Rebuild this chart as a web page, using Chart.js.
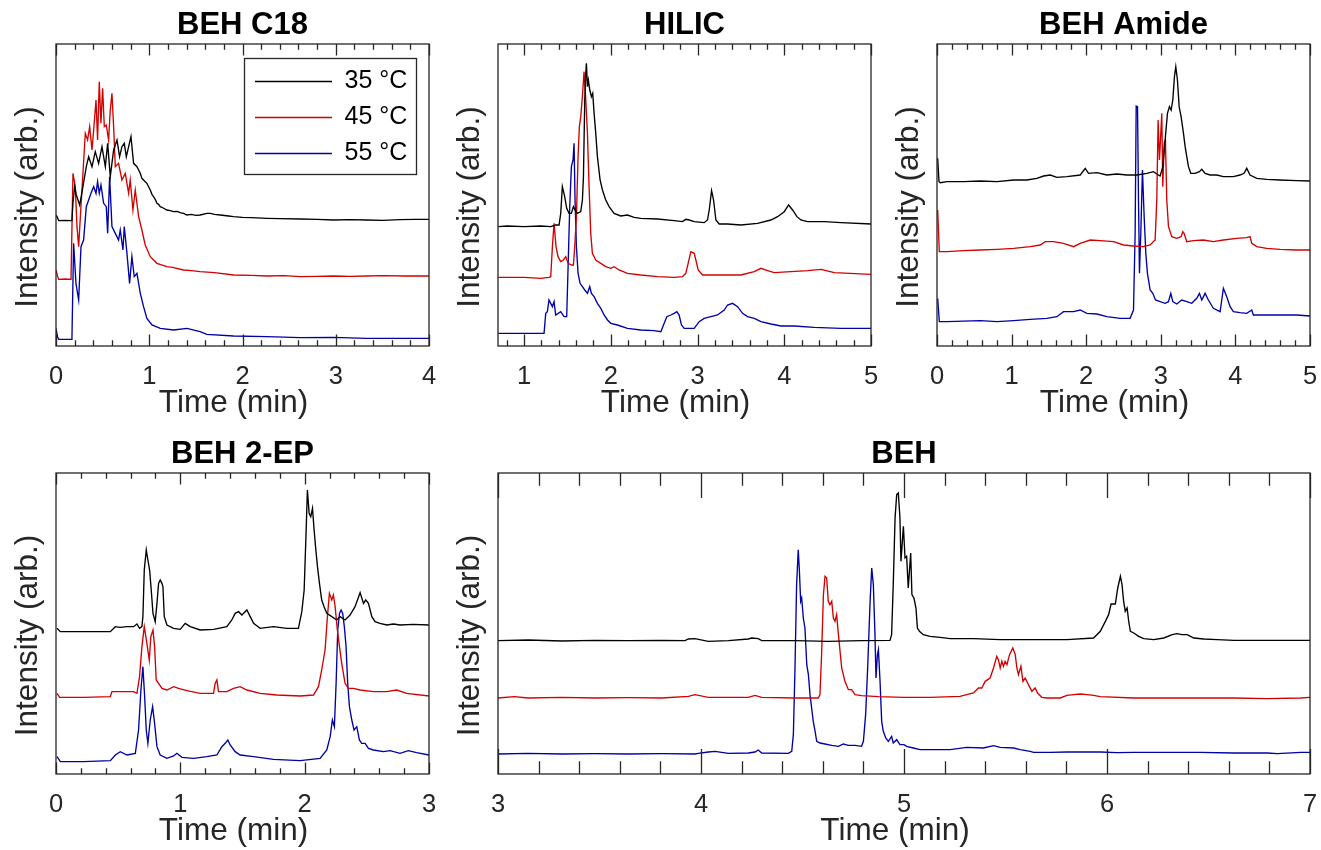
<!DOCTYPE html>
<html>
<head>
<meta charset="utf-8">
<script src="https://cdn.jsdelivr.net/npm/chart.js@4.4.1/dist/chart.umd.min.js"></script>
<style>
html,body{margin:0;padding:0;background:#fff;width:1321px;height:850px;overflow:hidden;}
canvas{position:absolute;}
</style>
</head>
<body>
<script>
// ---------------- DATA ----------------
const seriesLabels = ['35 °C', '45 °C', '55 °C'];
const panelTitles = ['BEH C18', 'HILIC', 'BEH Amide', 'BEH 2-EP', 'BEH'];
const xAxisTitle = 'Time (min)';
const yAxisTitle = 'Intensity (arb.)';

const c18Ticks = [0, 1, 2, 3, 4];
const hilicTicks = [1, 2, 3, 4, 5];
const amideTicks = [0, 1, 2, 3, 4, 5];
const ep2Ticks = [0, 1, 2, 3];
const behTicks = [3, 4, 5, 6, 7];

// [time (min), intensity (arb.)]
const c18_35 = [[0,393],[0.011,388],[0.029,376],[0.09,377],[0.161,376],[0.171,378],[0.182,430],[0.2,478],[0.218,453],[0.254,423],[0.289,478],[0.325,538],[0.35,568],[0.386,538],[0.421,583],[0.457,548],[0.493,598],[0.529,538],[0.554,608],[0.582,508],[0.618,588],[0.654,618],[0.682,568],[0.707,598],[0.732,608],[0.754,568],[0.779,598],[0.804,628],[0.832,548],[0.868,538],[0.886,528],[0.904,518],[0.921,503],[0.939,498],[0.957,493],[0.975,488],[1.011,468],[1.029,455],[1.046,448],[1.064,440],[1.082,428],[1.1,425],[1.118,418],[1.15,414],[1.189,408],[1.225,406],[1.261,403],[1.3,404],[1.332,400],[1.368,398],[1.404,393],[1.45,395],[1.5,392],[1.546,393],[1.618,398],[1.654,398],[1.7,395],[1.761,393],[1.85,390],[1.904,388],[2.0,386],[2.1,385],[2.261,383],[2.4,382],[2.618,381],[2.8,380],[2.975,378],[3.15,379],[3.332,378],[3.5,377],[3.689,379],[3.85,380],[4,380]];
const c18_45 = [[0,228],[0.018,208],[0.029,200],[0.1,201],[0.161,200],[0.171,200],[0.182,518],[0.207,478],[0.225,358],[0.243,298],[0.261,388],[0.289,518],[0.314,638],[0.339,618],[0.361,658],[0.386,588],[0.404,648],[0.429,738],[0.446,618],[0.464,793],[0.482,668],[0.5,773],[0.518,658],[0.539,663],[0.564,618],[0.582,708],[0.6,758],[0.618,658],[0.636,538],[0.671,548],[0.707,498],[0.743,518],[0.779,458],[0.796,498],[0.825,408],[0.85,468],[0.886,388],[0.921,348],[0.957,303],[1.011,268],[1.082,248],[1.189,238],[1.25,236],[1.368,228],[1.45,226],[1.546,223],[1.7,220],[1.904,213],[2.1,212],[2.261,210],[2.45,211],[2.618,208],[2.8,209],[2.975,210],[3.15,209],[3.332,210],[3.5,211],[3.75,210],[4,210]];
const c18_55 = [[0,53],[0.018,26],[0.029,20],[0.1,20],[0.161,20],[0.171,23],[0.189,308],[0.214,188],[0.243,138],[0.268,298],[0.296,318],[0.325,418],[0.35,438],[0.375,458],[0.404,478],[0.429,458],[0.446,493],[0.464,458],[0.482,483],[0.511,428],[0.539,418],[0.554,338],[0.575,508],[0.6,358],[0.636,338],[0.671,318],[0.689,348],[0.718,288],[0.732,358],[0.761,278],[0.789,188],[0.814,268],[0.839,208],[0.868,218],[0.904,158],[0.939,118],[0.975,83],[1.029,63],[1.118,53],[1.261,48],[1.404,53],[1.546,43],[1.618,35],[1.904,30],[2.261,28],[2.618,25],[2.975,26],[3.332,23],[4,23]];

const hilic_35 = [[0.704,358],[0.808,360],[1,358],[1.192,360],[1.308,358],[1.365,363],[1.404,363],[1.423,398],[1.442,478],[1.469,448],[1.492,413],[1.519,398],[1.546,398],[1.569,418],[1.588,408],[1.615,398],[1.654,403],[1.673,438],[1.685,508],[1.7,738],[1.712,818],[1.719,848],[1.731,778],[1.742,798],[1.758,768],[1.777,748],[1.792,758],[1.808,698],[1.827,638],[1.846,568],[1.877,498],[1.904,468],[1.942,438],[1.981,418],[2.038,398],[2.115,390],[2.192,393],[2.269,386],[2.346,383],[2.538,381],[2.731,376],[2.827,373],[2.865,380],[2.904,378],[2.962,373],[3.077,370],[3.115,378],[3.135,408],[3.162,466],[3.185,438],[3.212,378],[3.25,366],[3.346,366],[3.5,363],[3.692,368],[3.846,378],[3.923,388],[4,403],[4.05,423],[4.096,408],[4.146,388],[4.192,378],[4.269,373],[4.462,373],[4.654,370],[5,366]];
const hilic_45 = [[0.704,206],[1,206],[1.192,203],[1.288,206],[1.308,208],[1.327,298],[1.346,368],[1.369,298],[1.392,268],[1.423,253],[1.454,258],[1.481,268],[1.508,248],[1.55,243],[1.569,243],[1.585,298],[1.604,388],[1.623,568],[1.638,658],[1.654,688],[1.673,748],[1.692,823],[1.712,738],[1.731,638],[1.75,478],[1.769,338],[1.788,278],[1.827,258],[1.885,248],[1.942,238],[2,233],[2.038,238],[2.096,228],[2.192,218],[2.346,213],[2.538,208],[2.731,206],[2.827,208],[2.865,218],[2.892,248],[2.923,283],[2.962,278],[2.981,258],[3.008,228],[3.058,213],[3.192,213],[3.5,213],[3.654,223],[3.731,233],[3.808,226],[3.885,220],[4.077,223],[4.269,226],[4.423,230],[4.577,220],[5,215]];
const hilic_55 = [[0.704,38],[1,38],[1.212,38],[1.231,38],[1.25,98],[1.269,103],[1.288,138],[1.308,128],[1.327,118],[1.346,133],[1.365,93],[1.423,103],[1.462,88],[1.492,88],[1.508,238],[1.527,418],[1.546,538],[1.565,558],[1.577,608],[1.588,438],[1.604,298],[1.623,218],[1.646,188],[1.673,178],[1.7,168],[1.731,158],[1.758,178],[1.777,158],[1.808,148],[1.846,128],[1.885,113],[1.923,93],[1.962,78],[2,68],[2.077,63],[2.192,53],[2.346,48],[2.5,46],[2.577,43],[2.608,63],[2.646,88],[2.692,93],[2.731,98],[2.762,103],[2.788,93],[2.815,63],[2.846,53],[2.962,53],[3.019,73],[3.077,83],[3.154,88],[3.231,93],[3.308,108],[3.346,123],[3.404,128],[3.462,118],[3.519,98],[3.577,88],[3.654,83],[3.731,73],[3.846,66],[3.962,60],[4.115,60],[4.346,56],[4.654,53],[5,53]];

const amide_35 = [[0.009,563],[0.027,493],[0.045,490],[0.134,493],[0.357,493],[0.58,495],[0.804,493],[1.027,498],[1.205,498],[1.339,503],[1.429,510],[1.518,513],[1.607,506],[1.741,508],[1.92,513],[1.987,533],[2.031,518],[2.143,520],[2.277,513],[2.411,516],[2.545,513],[2.679,513],[2.812,518],[2.902,523],[2.946,516],[2.991,510],[3.027,538],[3.058,618],[3.089,698],[3.116,718],[3.138,708],[3.161,738],[3.183,808],[3.201,838],[3.223,798],[3.246,718],[3.272,688],[3.304,638],[3.326,598],[3.348,568],[3.371,538],[3.402,518],[3.46,518],[3.518,523],[3.549,530],[3.594,518],[3.661,513],[3.75,513],[3.839,508],[3.973,508],[4.062,513],[4.116,518],[4.152,533],[4.196,513],[4.286,503],[4.42,500],[4.598,498],[4.821,496],[5,495]];
const amide_45 = [[0.009,408],[0.031,283],[0.134,283],[0.357,286],[0.58,288],[0.804,290],[1.027,293],[1.25,298],[1.384,303],[1.451,313],[1.563,313],[1.696,308],[1.83,298],[1.92,308],[2.054,318],[2.188,316],[2.366,313],[2.5,303],[2.634,300],[2.768,298],[2.857,303],[2.924,318],[2.946,438],[2.964,678],[2.982,558],[3,638],[3.013,698],[3.027,478],[3.045,608],[3.062,618],[3.08,438],[3.103,358],[3.147,328],[3.214,323],[3.272,328],[3.295,343],[3.312,338],[3.348,313],[3.437,316],[3.571,318],[3.705,313],[3.839,318],[4.018,323],[4.152,325],[4.196,328],[4.219,308],[4.286,298],[4.42,293],[4.598,290],[4.821,288],[5,288]];
const amide_55 = [[0.009,143],[0.031,73],[0.134,73],[0.58,76],[0.804,73],[1.027,76],[1.25,80],[1.473,83],[1.607,88],[1.696,103],[1.83,103],[1.92,108],[2.009,98],[2.143,96],[2.277,88],[2.455,83],[2.589,83],[2.634,108],[2.656,338],[2.67,720],[2.688,718],[2.701,438],[2.714,218],[2.732,338],[2.754,528],[2.777,388],[2.799,278],[2.821,218],[2.857,168],[2.893,158],[2.929,138],[2.991,133],[3.058,128],[3.103,133],[3.134,158],[3.161,133],[3.214,126],[3.281,138],[3.348,133],[3.415,128],[3.482,143],[3.518,158],[3.549,138],[3.594,158],[3.638,138],[3.705,113],[3.795,103],[3.817,138],[3.839,173],[3.884,148],[3.929,118],[3.973,103],[4.062,100],[4.152,98],[4.219,108],[4.241,93],[4.375,93],[4.598,93],[4.821,93],[5,90]];

const ep2_35 = [[0.008,437],[0.035,427],[0.222,427],[0.437,427],[0.477,442],[0.517,440],[0.571,442],[0.624,442],[0.651,450],[0.672,437],[0.691,442],[0.699,472],[0.71,612],[0.726,672],[0.739,642],[0.753,612],[0.766,552],[0.78,482],[0.798,457],[0.812,512],[0.825,572],[0.838,582],[0.852,572],[0.86,562],[0.871,472],[0.892,447],[0.946,437],[0.999,434],[1.039,452],[1.08,442],[1.16,432],[1.267,434],[1.374,442],[1.414,462],[1.441,482],[1.468,487],[1.495,477],[1.535,492],[1.562,472],[1.589,452],[1.642,437],[1.749,442],[1.856,437],[1.95,437],[1.977,487],[1.996,552],[2.012,732],[2.022,852],[2.036,782],[2.049,772],[2.063,797],[2.076,732],[2.09,672],[2.103,622],[2.119,572],[2.137,522],[2.156,502],[2.178,482],[2.218,472],[2.258,462],[2.285,472],[2.325,462],[2.365,477],[2.405,502],[2.446,544],[2.473,512],[2.491,522],[2.513,512],[2.54,472],[2.566,457],[2.606,452],[2.66,447],[2.714,450],[2.767,447],[2.874,449],[3,447]];
const ep2_45 = [[0.008,242],[0.029,230],[0.222,230],[0.437,232],[0.45,247],[0.517,247],[0.624,247],[0.651,242],[0.672,292],[0.691,382],[0.71,442],[0.731,392],[0.75,342],[0.763,412],[0.78,432],[0.793,382],[0.806,282],[0.825,272],[0.852,257],[0.892,252],[0.946,262],[0.986,257],[1.053,250],[1.16,242],[1.267,242],[1.28,272],[1.294,282],[1.307,247],[1.374,247],[1.428,257],[1.481,262],[1.535,252],[1.642,242],[1.776,237],[1.964,234],[2.071,237],[2.111,262],[2.137,312],[2.164,372],[2.183,472],[2.199,542],[2.218,522],[2.231,537],[2.245,502],[2.263,432],[2.28,382],[2.298,332],[2.325,272],[2.352,257],[2.392,257],[2.446,252],[2.553,247],[2.66,247],[2.74,252],[2.821,242],[3,234]];
const ep2_55 = [[0.008,52],[0.035,37],[0.222,37],[0.437,40],[0.477,57],[0.517,67],[0.571,57],[0.638,62],[0.664,132],[0.683,252],[0.699,322],[0.713,232],[0.726,132],[0.739,92],[0.758,162],[0.777,202],[0.793,152],[0.812,82],[0.838,57],[0.892,47],[0.946,54],[0.972,62],[1.013,50],[1.106,47],[1.213,52],[1.294,57],[1.334,82],[1.361,92],[1.382,102],[1.401,87],[1.441,67],[1.481,57],[1.589,52],[1.749,44],[1.964,40],[2.124,47],[2.178,72],[2.205,112],[2.223,162],[2.239,142],[2.253,272],[2.266,432],[2.28,482],[2.293,492],[2.306,482],[2.319,442],[2.333,382],[2.346,272],[2.36,202],[2.379,162],[2.397,132],[2.419,142],[2.44,102],[2.459,92],[2.486,92],[2.513,77],[2.553,72],[2.633,67],[2.687,70],[2.767,62],[2.834,70],[2.901,64],[3,57]];

const beh_35 = [[3,400],[3.149,402],[3.314,399],[3.478,401],[3.642,400],[3.806,401],[3.921,400],[3.938,405],[3.97,406],[4.036,398],[4.135,400],[4.233,405],[4.25,408],[4.282,406],[4.299,400],[4.463,400],[4.627,398],[4.791,400],[4.931,401],[4.939,418],[4.947,568],[4.956,768],[4.964,838],[4.972,843],[4.98,768],[4.985,638],[4.997,743],[5.005,648],[5.013,653],[5.021,558],[5.033,663],[5.039,538],[5.049,528],[5.059,498],[5.066,438],[5.076,428],[5.095,418],[5.128,413],[5.178,410],[5.227,406],[5.342,406],[5.474,403],[5.638,403],[5.803,403],[5.934,408],[5.967,428],[5.992,458],[6.008,478],[6.02,510],[6.041,510],[6.053,558],[6.066,593],[6.074,568],[6.082,518],[6.09,488],[6.099,498],[6.107,458],[6.115,428],[6.132,423],[6.156,413],[6.181,406],[6.23,403],[6.28,408],[6.321,418],[6.345,421],[6.37,418],[6.395,418],[6.428,408],[6.477,405],[6.543,403],[6.625,401],[6.789,401],[7,401]];
const beh_45 = [[3,228],[3.08,232],[3.149,228],[3.314,230],[3.478,228],[3.642,229],[3.806,228],[3.938,233],[3.97,238],[4.036,230],[4.233,230],[4.266,236],[4.299,230],[4.463,228],[4.578,228],[4.586,238],[4.594,358],[4.603,538],[4.611,593],[4.619,588],[4.627,518],[4.635,508],[4.644,518],[4.652,468],[4.66,458],[4.668,478],[4.677,418],[4.685,368],[4.693,318],[4.709,278],[4.726,253],[4.742,253],[4.759,238],[4.791,235],[4.874,232],[5,230],[5.128,230],[5.276,233],[5.309,238],[5.342,243],[5.367,258],[5.383,258],[5.4,278],[5.424,288],[5.441,318],[5.457,353],[5.465,343],[5.474,318],[5.482,338],[5.49,323],[5.498,338],[5.507,328],[5.52,358],[5.536,378],[5.548,358],[5.556,318],[5.564,298],[5.576,323],[5.586,278],[5.597,288],[5.613,268],[5.63,248],[5.646,258],[5.658,243],[5.679,230],[5.704,228],[5.77,228],[5.803,236],[5.836,238],[5.868,240],[5.901,238],[5.934,236],[5.967,232],[6.132,228],[6.296,228],[6.461,228],[6.625,228],[6.789,226],[6.954,228],[7,230]];
const beh_55 = [[3,60],[3.149,62],[3.314,60],[3.478,61],[3.642,60],[3.806,61],[3.97,60],[3.987,62],[4.036,66],[4.069,68],[4.102,65],[4.135,62],[4.233,63],[4.266,66],[4.282,72],[4.299,63],[4.43,62],[4.447,68],[4.455,118],[4.463,318],[4.471,568],[4.479,673],[4.484,618],[4.491,518],[4.496,528],[4.504,468],[4.512,438],[4.521,328],[4.529,298],[4.537,238],[4.545,198],[4.553,158],[4.562,128],[4.57,98],[4.586,93],[4.611,90],[4.644,86],[4.677,83],[4.701,90],[4.726,86],[4.759,86],[4.791,83],[4.8,98],[4.811,178],[4.821,318],[4.833,518],[4.841,618],[4.849,568],[4.857,418],[4.862,288],[4.869,358],[4.874,373],[4.882,278],[4.89,158],[4.898,128],[4.91,108],[4.923,98],[4.939,113],[4.947,93],[4.964,103],[4.98,88],[5,88],[5.013,83],[5.046,78],[5.079,73],[5.145,73],[5.227,73],[5.309,80],[5.391,78],[5.441,85],[5.474,80],[5.54,78],[5.572,73],[5.622,68],[5.638,65],[5.72,65],[5.803,66],[5.885,66],[5.967,66],[6.049,64],[6.132,65],[6.296,65],[6.461,65],[6.625,63],[6.789,63],[6.839,61],[6.954,65],[7,65]];

// ---------------- STYLE / LAYOUT ----------------
const FONT = '"Liberation Sans", Arial, Helvetica, sans-serif';
const AXIS_COLOR = '#262626';
const COLORS = ['#000000', '#d40000', '#0000a8'];

const panels = [
  {title: panelTitles[0], xMin: 0,   xMax: 4, ticks: c18Ticks,   yMax: 906, series: [c18_35, c18_45, c18_55],       rect: [56, 44, 429, 346],   legend: true,  tick: [11.5, 5.7]},
  {title: panelTitles[1], xMin: 0.7, xMax: 5, ticks: hilicTicks, yMax: 906, series: [hilic_35, hilic_45, hilic_55], rect: [498, 44, 871, 346],  legend: false, tick: [11.5, 5.7]},
  {title: panelTitles[2], xMin: 0,   xMax: 5, ticks: amideTicks, yMax: 906, series: [amide_35, amide_45, amide_55], rect: [937, 44, 1310, 346], legend: false, tick: [11.5, 5.7]},
  {title: panelTitles[3], xMin: 0,   xMax: 3, ticks: ep2Ticks,   yMax: 903, series: [ep2_35, ep2_45, ep2_55],       rect: [56, 473, 429, 774],  legend: false, tick: [11.5, 5.7]},
  {title: panelTitles[4], xMin: 3,   xMax: 7, ticks: behTicks,   yMax: 903, series: [beh_35, beh_45, beh_55],       rect: [498, 473, 1310, 774], legend: false, tick: [25, 12.7]}
];

const Y_AXIS_W = 46, TITLE_H = 44, X_AXIS_H = 76, PAD_R = 11;

// inward ticks on top & bottom + box frame
const boxTicks = {
  id: 'boxTicks',
  afterDatasetsDraw(chart, args, o) {
    const ctx = chart.ctx, a = chart.chartArea, x = chart.scales.x;
    ctx.save();
    ctx.strokeStyle = o.color;
    ctx.lineWidth = o.lineWidth;
    ctx.beginPath();
    const k0 = Math.ceil(x.min / o.minorStep - 1e-6), k1 = Math.floor(x.max / o.minorStep + 1e-6);
    for (let k = k0; k <= k1; k++) {
      const v = k * o.minorStep;
      const r = v / o.majorStep;
      const major = Math.abs(r - Math.round(r)) < 1e-6;
      const len = major ? o.majorLen : o.minorLen;
      const px = Math.round(x.getPixelForValue(v)) + 0.5;
      ctx.moveTo(px, a.bottom); ctx.lineTo(px, a.bottom - len);
      ctx.moveTo(px, a.top); ctx.lineTo(px, a.top + len);
    }
    ctx.stroke();
    ctx.strokeRect(a.left, a.top, a.right - a.left, a.bottom - a.top);
    ctx.restore();
  }
};

// moves the library legend to the top-right corner of the plot and frames it
const legendFrame = {
  id: 'legendFrame',
  afterLayout(chart, args, o) {
    const lg = chart.legend;
    if (!o.enabled || !lg) return;
    const a = chart.chartArea;
    lg.left = a.right - o.right - o.width;
    lg.right = lg.left + o.width;
    lg.top = a.top + o.top;
  },
  afterDraw(chart, args, o) {
    const lg = chart.legend;
    if (!o.enabled || !lg) return;
    const ctx = chart.ctx;
    ctx.save();
    ctx.strokeStyle = o.color;
    ctx.lineWidth = o.lineWidth;
    ctx.strokeRect(Math.round(lg.left) + 0.5, Math.round(lg.top) + 0.5, o.width, o.height);
    ctx.restore();
  }
};

// small offset of the axis titles (the library draws them; we only shift the origin)
const titleNudge = {
  id: 'titleNudge',
  afterLayout(chart, args, o) {
    ['x', 'y'].forEach(id => {
      const s = chart.scales[id];
      if (!s || s.__nudged) return;
      const orig = s.drawTitle;
      const d = o[id];
      s.drawTitle = function () {
        const c = this.ctx;
        c.save();
        c.translate(d[0], d[1]);
        orig.call(this);
        c.restore();
      };
      s.__nudged = true;
    });
  }
};

panels.forEach((p) => {
  const [L, T, R, B] = p.rect;
  const cv = document.createElement('canvas');
  const left = L - Y_AXIS_W, top = T - TITLE_H;
  const w = R - L + Y_AXIS_W + PAD_R, h = B - T + TITLE_H + X_AXIS_H;
  cv.width = w; cv.height = h;
  cv.style.left = left + 'px'; cv.style.top = top + 'px';
  cv.style.width = w + 'px'; cv.style.height = h + 'px';
  document.body.appendChild(cv);

  new Chart(cv.getContext('2d'), {
    type: 'line',
    data: {
      datasets: p.series.map((s, j) => ({
        label: seriesLabels[j],
        data: s.map(d => ({x: d[0], y: d[1]})),
        borderColor: COLORS[j],
        backgroundColor: COLORS[j],
        pointBorderColor: COLORS[j],
        pointBackgroundColor: COLORS[j],
        pointBorderWidth: 1.4,
        borderWidth: 1.35,
        pointRadius: 0,
        pointHoverRadius: 0,
        tension: 0,
        fill: false
      }))
    },
    options: {
      responsive: false,
      devicePixelRatio: 1,
      animation: false,
      events: [],
      layout: {padding: {left: 0, top: 0, right: PAD_R, bottom: 0}},
      plugins: {
        tooltip: {enabled: false},
        title: {
          display: true, text: p.title, color: '#000', fullSize: false,
          font: {family: FONT, size: 31, weight: 'bold'},
          padding: {top: 6.8, bottom: 0}
        },
        legend: {
          display: p.legend, position: 'chartArea', align: 'start', fullSize: false,
          labels: {
            usePointStyle: true, pointStyle: 'line', pointStyleWidth: 77,
            padding: 11, color: '#000', font: {family: FONT, size: 25}
          }
        },
        boxTicks: {color: AXIS_COLOR, lineWidth: 1.3, minorStep: 0.2, majorStep: 1, majorLen: p.tick[0], minorLen: p.tick[1]},
        legendFrame: {enabled: p.legend, right: 13, top: 14, width: 172, height: 116, color: AXIS_COLOR, lineWidth: 1.3},
        titleNudge: {x: [-9, 0], y: [-1, 12]}
      },
      scales: {
        x: {
          type: 'linear', min: p.xMin, max: p.xMax,
          afterBuildTicks: s => { s.ticks = p.ticks.map(v => ({value: v})); },
          afterFit: s => { s.height = X_AXIS_H; },
          grid: {display: false, drawTicks: false},
          border: {display: false},
          ticks: {autoSkip: false, maxRotation: 0, padding: 0, color: AXIS_COLOR, font: {family: FONT, size: 25.5, lineHeight: 2.46}},
          title: {display: true, text: xAxisTitle, color: AXIS_COLOR, font: {family: FONT, size: 31.5}, padding: {top: 0, bottom: 0}}
        },
        y: {
          type: 'linear', min: 0, max: p.yMax,
          afterFit: s => { s.width = Y_AXIS_W; },
          grid: {display: false, drawTicks: false},
          border: {display: false},
          ticks: {display: false},
          title: {display: true, text: yAxisTitle, color: AXIS_COLOR, font: {family: FONT, size: 31.5}, padding: {top: 0, bottom: 0}}
        }
      }
    },
    plugins: [boxTicks, legendFrame, titleNudge]
  });
});
</script>
</body>
</html>
